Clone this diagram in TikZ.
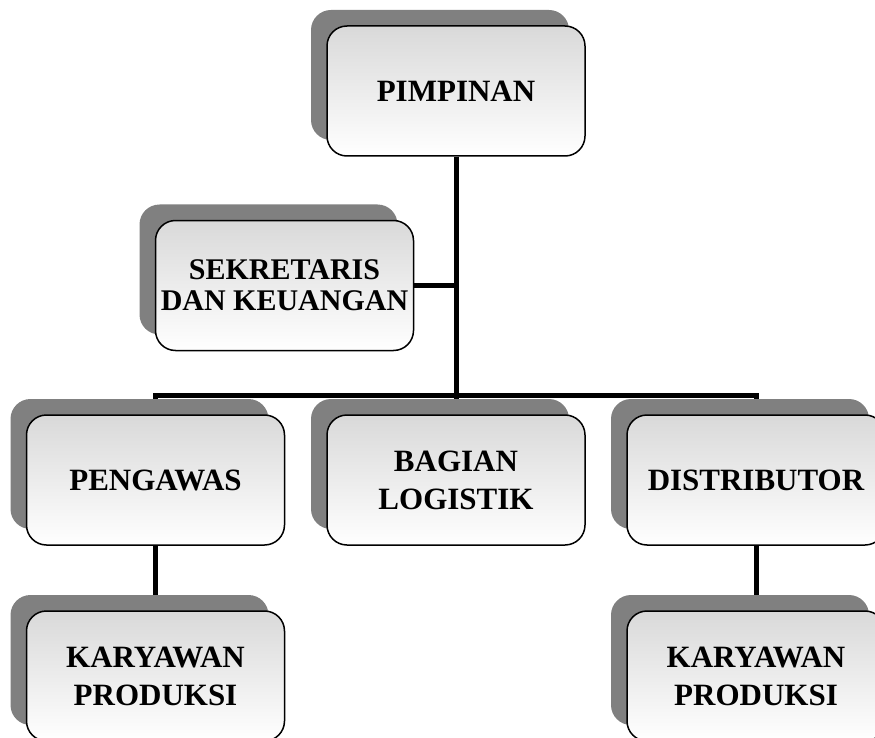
\documentclass[tikz,border=0pt]{standalone}
\usepackage{fontspec}
\setmainfont{Liberation Serif}
\usetikzlibrary{shadows,backgrounds}
\definecolor{boxtop}{HTML}{D9D9D9}
\definecolor{shadowgray}{HTML}{808080}
\tikzset{
  orgbox/.style={rectangle, rounded corners=20pt, draw=black, line width=1.5pt,
    top color=boxtop, bottom color=white, minimum width=258pt, minimum height=130pt,
    inner sep=0pt, align=center, font=\bfseries\fontsize{31}{38}\selectfont,
    general shadow={fill=shadowgray, shadow xshift=-16pt, shadow yshift=16pt}},
  smalltext/.style={font=\bfseries\fontsize{30}{31}\selectfont},
  link/.style={line width=5pt, draw=black, line join=miter}
}
\begin{document}
\begin{tikzpicture}[x=1pt,y=-1pt]
\clip (0,0) rectangle (875,738);
\node[orgbox] (pim) at (456,91) {PIMPINAN};
\node[orgbox,smalltext] (sek) at (284.5,285.5) {SEKRETARIS\\DAN KEUANGAN};
\node[orgbox] (peng) at (155.5,480) {PENGAWAS};
\node[orgbox] (log) at (456,480) {BAGIAN\\LOGISTIK};
\node[orgbox] (dist) at (756,480) {DISTRIBUTOR};
\node[orgbox] (kar1) at (155.5,676) {KARYAWAN\\PRODUKSI};
\node[orgbox] (kar2) at (756,676) {KARYAWAN\\PRODUKSI};
\coordinate (j) at (456,395);
\begin{pgfonlayer}{background}
\draw[link] (pim.south) -- (log.north);
\draw[link] (sek.east) -- (sek.east -| pim.south);
\draw[link] (peng.north) -- (peng.north |- j) -- (dist.north |- j) -- (dist.north);
\draw[link] (peng.south) -- (kar1.north);
\draw[link] (dist.south) -- (kar2.north);
\end{pgfonlayer}
\end{tikzpicture}
\end{document}
